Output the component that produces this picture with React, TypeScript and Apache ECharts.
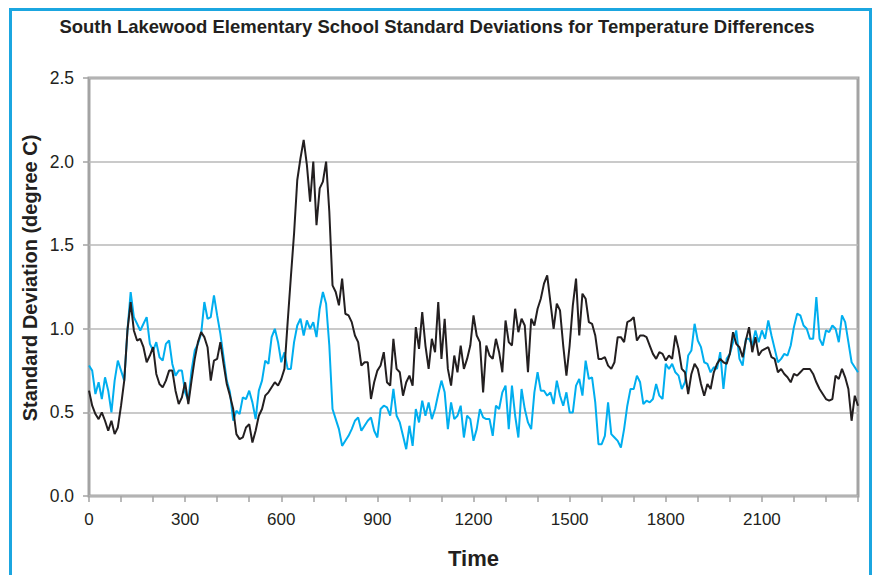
import React, { useEffect, useRef } from "react";
import * as echarts from "echarts";

const TITLE = "South Lakewood Elementary School Standard Deviations for Temperature Differences";
const X_NAME = "Time";
const Y_NAME = "Standard Deviation (degree C)";

// sample spacing of the time axis (one reading every 10 time units, 0..2400)
const TIME_STEP = 10;
const X_MAX = 2400;
const X_LABEL_EVERY = 300;
const Y_TICKS = [0, 0.5, 1.0, 1.5, 2.0, 2.5];

// black series
const blackSeries = [
  0.63, 0.54, 0.49, 0.46, 0.50, 0.45, 0.39, 0.45, 0.37, 0.41,
  0.54, 0.69, 0.99, 1.16, 0.99, 0.93, 0.94, 0.89, 0.80, 0.84,
  0.89, 0.73, 0.67, 0.65, 0.69, 0.75, 0.75, 0.63, 0.55, 0.59,
  0.68, 0.55, 0.69, 0.82, 0.92, 0.98, 0.95, 0.89, 0.69, 0.81,
  0.82, 0.92, 0.79, 0.67, 0.60, 0.52, 0.37, 0.34, 0.35, 0.41,
  0.43, 0.32, 0.39, 0.48, 0.52, 0.60, 0.62, 0.65, 0.68, 0.66,
  0.70, 0.76, 1.04, 1.31, 1.57, 1.89, 2.02, 2.13, 1.98, 1.76,
  2.00, 1.62, 1.84, 1.88, 2.00, 1.70, 1.26, 1.22, 1.14, 1.30,
  1.09, 1.08, 1.04, 0.96, 0.92, 0.78, 0.80, 0.80, 0.58, 0.68,
  0.75, 0.78, 0.86, 0.68, 0.66, 0.94, 0.76, 0.74, 0.60, 0.68,
  0.72, 0.66, 1.01, 0.88, 1.10, 0.90, 0.76, 0.94, 0.86, 1.16,
  0.82, 1.06, 0.76, 0.66, 0.84, 0.74, 0.90, 0.76, 0.82, 0.90,
  1.08, 0.96, 0.92, 0.62, 0.90, 0.84, 0.82, 0.94, 0.86, 0.74,
  1.05, 0.92, 0.90, 1.12, 0.98, 1.06, 1.02, 0.74, 1.06, 1.02,
  1.12, 1.18, 1.27, 1.32, 1.16, 1.00, 1.15, 1.11, 0.90, 0.72,
  0.90, 1.14, 1.30, 0.96, 1.21, 1.18, 1.04, 1.03, 0.96, 0.82,
  0.82, 0.83, 0.78, 0.76, 0.80, 0.95, 0.95, 0.92, 1.04, 1.05,
  1.07, 0.93, 0.96, 0.96, 0.95, 0.90, 0.85, 0.82, 0.86, 0.85,
  0.81, 0.84, 0.82, 0.96, 0.88, 0.76, 0.74, 0.61, 0.73, 0.79,
  0.76, 0.67, 0.60, 0.67, 0.64, 0.74, 0.79, 0.82, 0.80, 0.79,
  0.85, 0.98, 0.91, 0.89, 0.83, 0.93, 1.01, 0.86, 0.95, 0.84,
  0.87, 0.88, 0.89, 0.83, 0.82, 0.74, 0.76, 0.73, 0.71, 0.68,
  0.73, 0.72, 0.74, 0.76, 0.76, 0.76, 0.73, 0.68, 0.64, 0.61,
  0.58, 0.57, 0.58, 0.72, 0.70, 0.76, 0.71, 0.64, 0.45, 0.60,
  0.54,
];

// blue series
const blueSeries = [
  0.78, 0.75, 0.61, 0.68, 0.58, 0.71, 0.63, 0.50, 0.69, 0.81,
  0.75, 0.69, 0.99, 1.22, 1.07, 1.03, 0.99, 1.03, 1.07, 0.91,
  0.87, 0.92, 0.83, 0.81, 0.91, 0.93, 0.79, 0.72, 0.75, 0.75,
  0.62, 0.57, 0.75, 0.87, 0.91, 0.97, 1.16, 1.06, 1.07, 1.20,
  1.08, 0.97, 0.83, 0.69, 0.62, 0.45, 0.51, 0.49, 0.59, 0.58,
  0.63, 0.56, 0.46, 0.63, 0.69, 0.81, 0.79, 0.95, 1.00, 0.92,
  0.80, 0.86, 0.76, 0.76, 0.92, 1.02, 1.06, 0.96, 1.05, 1.00,
  1.04, 0.95, 1.12, 1.22, 1.15, 0.90, 0.52, 0.46, 0.40, 0.30,
  0.33, 0.36, 0.40, 0.45, 0.47, 0.39, 0.42, 0.45, 0.47, 0.39,
  0.35, 0.52, 0.54, 0.53, 0.48, 0.64, 0.48, 0.44, 0.36, 0.28,
  0.42, 0.30, 0.52, 0.44, 0.57, 0.48, 0.56, 0.46, 0.52, 0.61,
  0.69, 0.62, 0.40, 0.56, 0.46, 0.48, 0.54, 0.35, 0.48, 0.46,
  0.33, 0.40, 0.52, 0.47, 0.46, 0.46, 0.36, 0.54, 0.52, 0.62,
  0.66, 0.40, 0.66, 0.48, 0.35, 0.64, 0.52, 0.44, 0.40, 0.62,
  0.74, 0.63, 0.63, 0.60, 0.62, 0.55, 0.69, 0.60, 0.54, 0.62,
  0.50, 0.50, 0.66, 0.70, 0.60, 0.81, 0.70, 0.71, 0.56, 0.31,
  0.31, 0.36, 0.56, 0.37, 0.35, 0.33, 0.29, 0.40, 0.54, 0.64,
  0.64, 0.72, 0.68, 0.55, 0.57, 0.56, 0.58, 0.67, 0.60, 0.58,
  0.79, 0.76, 0.79, 0.74, 0.72, 0.64, 0.68, 0.84, 0.87, 1.03,
  0.93, 0.89, 0.80, 0.79, 0.74, 0.77, 0.76, 0.86, 0.64, 0.82,
  0.85, 0.92, 0.99, 0.82, 0.78, 0.94, 0.94, 0.90, 0.99, 0.92,
  0.99, 0.94, 1.05, 0.96, 0.88, 0.80, 0.82, 0.85, 0.84, 0.90,
  1.01, 1.09, 1.08, 1.02, 1.00, 0.94, 0.94, 1.19, 0.94, 0.90,
  0.99, 0.98, 1.02, 1.00, 0.92, 1.08, 1.04, 0.92, 0.80, 0.77,
  0.74,
];

const FONT = '"Liberation Sans", Arial, Helvetica, sans-serif';
const TEXT_COLOR = "#231f20";
const FRAME = "#a3a3a3";

function toPoints(values: number[]) {
  return values.map((v, i) => [i * TIME_STEP, v]);
}

export default function App() {
  const ref = useRef<HTMLDivElement>(null);

  useEffect(() => {
    if (!ref.current) return;
    const chart = echarts.init(ref.current, undefined, { renderer: "svg" });
    chart.setOption({
      animation: false,
      backgroundColor: "#ffffff",
      title: {
        text: TITLE,
        left: 432,
        top: 12,
        textAlign: "center",
        textStyle: { fontFamily: FONT, fontWeight: "bold", fontSize: 18.5, color: TEXT_COLOR },
      },
      graphic: [
        {
          type: "text",
          x: 30,
          y: 278,
          rotation: Math.PI / 2,
          style: {
            text: Y_NAME,
            fontFamily: FONT,
            fontWeight: "bold",
            fontSize: 20,
            fill: TEXT_COLOR,
            textAlign: "center",
            textVerticalAlign: "middle",
          },
        },
      ],
      grid: {
        left: 89,
        right: 16,
        top: 78,
        bottom: 79,
        show: true,
        borderColor: FRAME,
        borderWidth: 3,
        backgroundColor: "transparent",
      },
      xAxis: {
        type: "value",
        min: 0,
        max: X_MAX,
        interval: 100,
        axisLine: { show: false },
        axisTick: { show: true, length: 6, lineStyle: { color: FRAME, width: 1.5 } },
        axisLabel: {
          fontFamily: FONT,
          fontSize: 17,
          color: TEXT_COLOR,
          margin: 15,
          formatter: (v: number) => (v % X_LABEL_EVERY === 0 && v < X_MAX ? String(v) : ""),
        },
        splitLine: { show: false },
        name: X_NAME,
        nameLocation: "middle",
        nameGap: 51,
        nameTextStyle: { fontFamily: FONT, fontWeight: "bold", fontSize: 22, color: TEXT_COLOR },
      },
      yAxis: {
        type: "value",
        min: Y_TICKS[0],
        max: Y_TICKS[Y_TICKS.length - 1],
        interval: 0.5,
        axisLine: { show: false },
        axisTick: { show: true, length: 6, lineStyle: { color: FRAME, width: 1.5 } },
        axisLabel: {
          fontFamily: FONT,
          fontSize: 17.5,
          color: TEXT_COLOR,
          margin: 15,
          formatter: (v: number) => v.toFixed(1),
        },
        splitLine: { show: true, lineStyle: { color: "#b9b9b9", width: 1.5 } },
      },
      series: [
        {
          type: "line",
          data: toPoints(blueSeries),
          showSymbol: false,
          symbol: "none",
          lineStyle: { color: "#00aeef", width: 2 },
          itemStyle: { color: "#00aeef" },
          z: 2,
        },
        {
          type: "line",
          data: toPoints(blackSeries),
          showSymbol: false,
          symbol: "none",
          lineStyle: { color: "#231f20", width: 2 },
          itemStyle: { color: "#231f20" },
          z: 3,
        },
      ],
    });
    return () => chart.dispose();
  }, []);

  return (
    <>
      <div
        style={{
          position: "fixed",
          left: 0,
          top: 0,
          width: 874,
          height: 575,
          background: "#ffffff",
        }}
      >
        <div ref={ref} style={{ position: "absolute", left: 0, top: 0, width: 874, height: 575 }} />
        <div
          style={{
            position: "absolute",
            left: 9,
            top: 8,
            width: 863,
            height: 600,
            borderTop: "3px solid #1ba6e0",
            borderLeft: "3px solid #1ba6e0",
            borderRight: "3px solid #1ba6e0",
            boxSizing: "border-box",
            pointerEvents: "none",
          }}
        />
      </div>
    </>
  );
}
